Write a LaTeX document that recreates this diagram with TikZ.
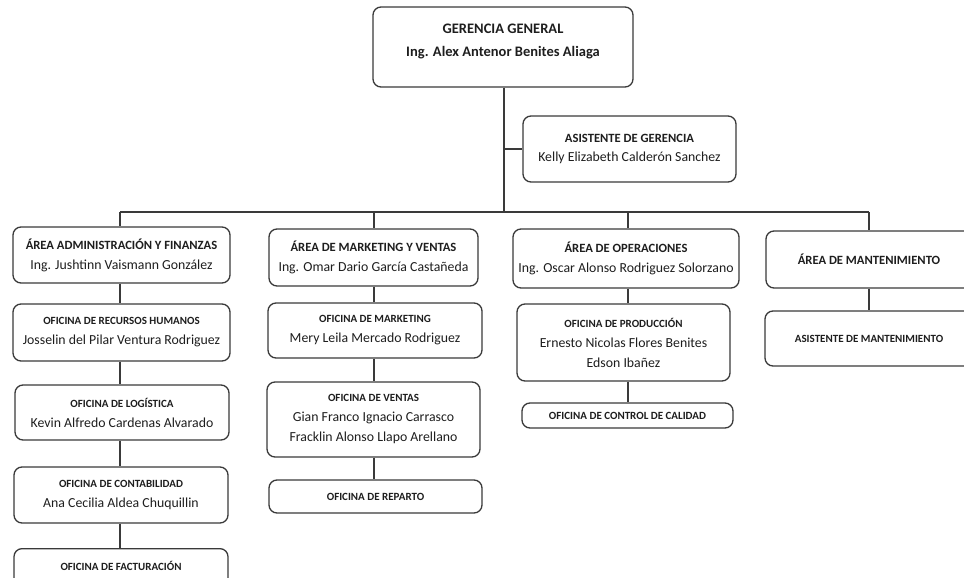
\documentclass[tikz,border=0pt]{standalone}
\usepackage{fontspec}
\setmainfont{Carlito}
\definecolor{linec}{HTML}{3A3A3A}
\definecolor{txtc}{HTML}{1E1E1E}
\tikzset{
  box/.style={draw=linec, line width=1.3pt, rounded corners=8pt, fill=white, align=center, text=txtc, inner sep=0pt},
  conn/.style={draw=linec, line width=1.1pt},
  big/.style={font=\fontsize{14.5}{23}\selectfont},
  mid/.style={font=\fontsize{13.8}{20}\selectfont},
  plain/.style={align=center, text=txtc, inner sep=0pt},
}
\newcommand{\ttl}[1]{{\fontsize{12.6}{20}\selectfont\bfseries #1}}
\newcommand{\otl}[1]{{\fontsize{11}{20}\selectfont\bfseries #1}}
\begin{document}
\begin{tikzpicture}[x=1pt,y=-1pt]
\useasboundingbox (0,0) rectangle (964,578);
\clip (0,0) rectangle (964,578);
% top
\node[box, big, minimum width=260, minimum height=80] (gg) at (503,47) {\textbf{GERENCIA GENERAL}\\\textbf{Ing. Alex Antenor Benites Aliaga}\\[-10pt]\mbox{}};
\node[box, mid, minimum width=213, minimum height=66] (asis) at (629.5,149) {\ttl{ASISTENTE DE GERENCIA}\\[-1pt]Kelly Elizabeth Calderón Sanchez};
% areas
\node[box, mid, minimum width=217, minimum height=56] (a1) at (121.5,255) {\ttl{ÁREA ADMINISTRACIÓN Y FINANZAS}\\Ing. Jushtinn Vaismann González};
\node[box, mid, minimum width=209, minimum height=57] (a2) at (373.5,257.5) {\ttl{ÁREA DE MARKETING Y VENTAS}\\Ing. Omar Dario García Castañeda};
\node[box, mid, minimum width=226, minimum height=59] (a3) at (626,258.5) {\ttl{ÁREA DE OPERACIONES}\\Ing. Oscar Alonso Rodriguez Solorzano};
\node[box, mid, minimum width=206, minimum height=57] (a4) at (869,259.5) {\ttl{ÁREA DE MANTENIMIENTO}};
% column 1
\node[box, mid, minimum width=217, minimum height=57] (rrhh) at (121.5,332.5) {\otl{OFICINA DE RECURSOS HUMANOS}\\Josselin del Pilar Ventura Rodriguez};
\node[box, mid, minimum width=214, minimum height=55] (log) at (122,412.5) {\otl{OFICINA DE LOGÍSTICA}\\Kevin Alfredo Cardenas Alvarado};
\node[box, mid, minimum width=214, minimum height=56] (cont) at (121,495) {\otl{OFICINA DE CONTABILIDAD}\\Ana Cecilia Aldea Chuquillin};
\node[box, minimum width=214, minimum height=56, anchor=north] (fact) at (121,548) {};
\node[plain] (facttxt) at (121,566) {\otl{OFICINA DE FACTURACIÓN}};
% column 2
\node[box, mid, minimum width=214, minimum height=55] (mkt) at (375,330.5) {\otl{OFICINA DE MARKETING}\\Mery Leila Mercado Rodriguez};
\node[box, mid, minimum width=213, minimum height=75] (ven) at (373.5,419.5) {\otl{OFICINA DE VENTAS}\\Gian Franco Ignacio Carrasco\\Fracklin Alonso Llapo Arellano};
\node[box, mid, minimum width=213, minimum height=33] (rep) at (375.5,496.5) {\otl{OFICINA DE REPARTO}};
% column 3
\node[box, mid, minimum width=213, minimum height=77] (prod) at (623.5,342.5) {\otl{OFICINA DE PRODUCCIÓN}\\Ernesto Nicolas Flores Benites\\Edson Ibañez};
\node[box, mid, minimum width=211, minimum height=25] (cal) at (627.5,415.5) {\otl{OFICINA DE CONTROL DE CALIDAD}};
% column 4
\node[box, mid, minimum width=208, minimum height=55] (amt) at (869,338.5) {\otl{ASISTENTE DE MANTENIMIENTO}};
% bus
\coordinate (bus1) at (120,212);
\coordinate (bus2) at (374,212);
\coordinate (bus3) at (628,212);
\coordinate (bus4) at (869,212);
\coordinate (ggb) at (504,212);
\coordinate (asj) at (504,149);
\draw[conn] (gg.south -| ggb) -- (ggb);
\draw[conn] (asj) -- (asis.west);
\draw[conn] (bus1) -- (bus4);
\draw[conn] (bus1) -- (bus1 |- a1.north);
\draw[conn] (bus2) -- (bus2 |- a2.north);
\draw[conn] (bus3) -- (bus3 |- a3.north);
\draw[conn] (bus4) -- (bus4 |- a4.north);
% column connectors
\draw[conn] (a1.south -| bus1) -- (rrhh.north -| bus1);
\draw[conn] (rrhh.south -| bus1) -- (log.north -| bus1);
\draw[conn] (log.south -| bus1) -- (cont.north -| bus1);
\draw[conn] (cont.south -| bus1) -- (fact.north -| bus1);
\draw[conn] (a2.south -| bus2) -- (mkt.north -| bus2);
\draw[conn] (mkt.south -| bus2) -- (ven.north -| bus2);
\draw[conn] (ven.south -| bus2) -- (rep.north -| bus2);
\draw[conn] (a3.south -| bus3) -- (prod.north -| bus3);
\draw[conn] (prod.south -| bus3) -- (cal.north -| bus3);
\draw[conn] (a4.south -| bus4) -- (amt.north -| bus4);
\end{tikzpicture}
\end{document}
